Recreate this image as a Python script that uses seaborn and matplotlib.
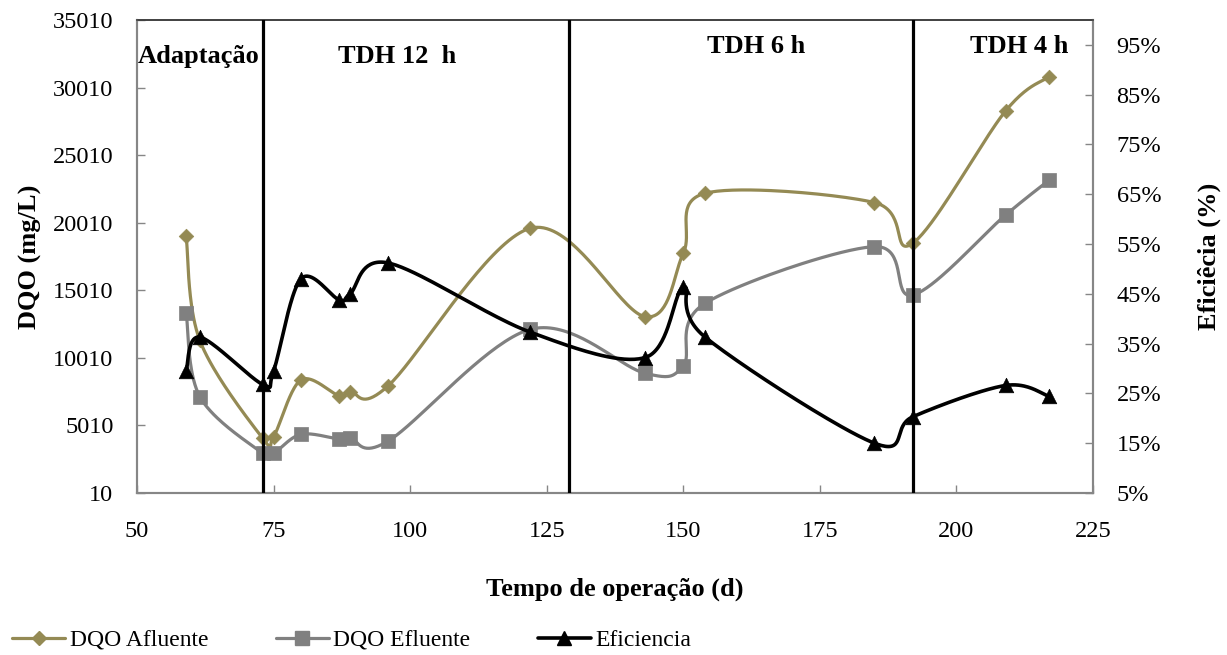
import numpy as np
import matplotlib
matplotlib.use("Agg")
import matplotlib.pyplot as plt
from matplotlib.lines import Line2D
import seaborn as sns

# ---- data ----
dias = [59, 61.5, 73, 75, 80, 87, 89, 96, 122, 143, 150, 154, 185, 192, 209, 217]
dqo_afluente = [19000, 11300, 4060, 4180, 8370, 7210, 7500, 7950, 19600,
                13060, 17750, 22190, 21500, 18490, 28280, 30820]
dqo_efluente = [13350, 7140, 2950, 2950, 4350, 4010, 4100, 3860, 12120,
                8870, 9430, 14050, 18240, 14660, 20580, 23170]
eficiencia = [29.5, 36.3, 26.8, 29.5, 48.0, 43.8, 45.0, 51.2, 37.3,
              32.2, 46.3, 36.3, 15.0, 20.3, 26.6, 24.4]
fases_limites = [73, 129, 192]
fases_nomes = ["Adaptação", "TDH 12  h", "TDH 6 h", "TDH 4 h"]
x_ticks = [50, 75, 100, 125, 150, 175, 200, 225]
y_ticks = [10, 5010, 10010, 15010, 20010, 25010, 30010, 35010]
pct_ticks = [5, 15, 25, 35, 45, 55, 65, 75, 85, 95]

# ---- style ----
sns.set_theme(style="white")
plt.rcParams["font.family"] = ["Liberation Serif", "DejaVu Serif"]
plt.rcParams["text.color"] = "black"
plt.rcParams["axes.labelcolor"] = "black"
plt.rcParams["xtick.color"] = "black"
plt.rcParams["ytick.color"] = "black"

C_AFL = "#948A54"
C_EFL = "#808080"
C_EFI = "#000000"
C_AX = "#868686"
FS = 17.5

fig = plt.figure(figsize=(12.27, 6.55), dpi=100)
ax = fig.add_axes([137 / 1227, 1 - 493 / 655, (1093 - 137) / 1227, (493 - 20) / 655])
ax2 = ax.twinx()

ax.set_xlim(50, 225)
ax.set_ylim(10, 35010)
ax2.set_ylim(5, 100)


def smooth(a, xs, ys, n=40):
    """Excel-like smoothed line (cubic Bezier / Catmull-Rom in screen space)."""
    pts = a.transData.transform(np.column_stack([xs, ys]))
    P = np.vstack([pts[0], pts, pts[-1]])
    t = np.linspace(0, 1, n)[:, None]
    out = []
    for i in range(1, len(P) - 2):
        p0, p1, p2, p3 = P[i - 1], P[i], P[i + 1], P[i + 2]
        c1 = p1 + (p2 - p0) / 6
        c2 = p2 - (p3 - p1) / 6
        seg = (1 - t) ** 3 * p1 + 3 * (1 - t) ** 2 * t * c1 + 3 * (1 - t) * t ** 2 * c2 + t ** 3 * p2
        out.append(seg if i == 1 else seg[1:])
    curve = a.transData.inverted().transform(np.vstack(out))
    return curve[:, 0], curve[:, 1]


# series
cx, cy = smooth(ax, dias, dqo_afluente)
sns.lineplot(x=cx, y=cy, ax=ax, sort=False, estimator=None, color=C_AFL, lw=2.3, zorder=3)
sns.scatterplot(x=dias, y=dqo_afluente, ax=ax, marker="D", s=55, color=C_AFL,
                edgecolor=C_AFL, linewidth=0.5, zorder=4)

cx, cy = smooth(ax, dias, dqo_efluente)
sns.lineplot(x=cx, y=cy, ax=ax, sort=False, estimator=None, color=C_EFL, lw=2.3, zorder=3)
sns.scatterplot(x=dias, y=dqo_efluente, ax=ax, marker="s", s=110, color=C_EFL,
                edgecolor=C_EFL, linewidth=0.5, zorder=4)

cx, cy = smooth(ax2, dias, eficiencia)
sns.lineplot(x=cx, y=cy, ax=ax2, sort=False, estimator=None, color=C_EFI, lw=2.6, zorder=3)
sns.scatterplot(x=dias, y=eficiencia, ax=ax2, marker="^", s=110, color=C_EFI,
                edgecolor=C_EFI, linewidth=0.5, zorder=4)

for xv in fases_limites:
    ax2.axvline(xv, color="black", lw=2.3, zorder=6)

# phase labels
xt = ax2.get_xaxis_transform()
ax2.text(50.2, 0.922, fases_nomes[0], transform=xt, ha="left", va="center",
         fontsize=19, fontweight="bold", color="black")
ax2.text(97.6, 0.922, fases_nomes[1], transform=xt, ha="center", va="center",
         fontsize=19, fontweight="bold", color="black")
ax2.text(163.3, 0.943, fases_nomes[2], transform=xt, ha="center", va="center",
         fontsize=19, fontweight="bold", color="black")
ax2.text(211.4, 0.943, fases_nomes[3], transform=xt, ha="center", va="center",
         fontsize=19, fontweight="bold", color="black")

# axes / ticks
ax.set_xticks(x_ticks)
ax.set_xticklabels([str(v) for v in x_ticks])
ax.set_yticks(y_ticks)
ax.set_yticklabels([str(v) for v in y_ticks])
ax2.set_yticks(pct_ticks)
ax2.set_yticklabels([f"{v}%" for v in pct_ticks])

ax.tick_params(axis="both", direction="in", length=6, width=1, color=C_AX,
               labelsize=FS, labelcolor="black")
ax.tick_params(axis="x", pad=20, bottom=True)
ax.tick_params(axis="y", pad=17, left=True)
ax2.tick_params(axis="y", direction="in", length=6, width=1, color=C_AX,
                labelsize=FS, labelcolor="black", pad=17, right=True)

for a in (ax, ax2):
    for side in ("left", "right", "bottom"):
        a.spines[side].set_color(C_AX)
        a.spines[side].set_linewidth(1.5)
    a.spines["top"].set_color("#404040")
    a.spines["top"].set_linewidth(1.2)
    a.grid(False)

ax.set_xlabel("Tempo de operação (d)", fontsize=19, fontweight="bold", labelpad=26,
              color="black")
ax.set_ylabel("DQO (mg/L)", fontsize=19, fontweight="bold", labelpad=8, color="black")
ax2.set_ylabel("Eficiêcia (%)", fontsize=19, fontweight="bold", labelpad=26, color="black")

handles = [
    Line2D([], [], color=C_AFL, lw=2.3, marker="D", ms=7),
    Line2D([], [], color=C_EFL, lw=2.3, marker="s", ms=10),
    Line2D([], [], color=C_EFI, lw=2.6, marker="^", ms=10),
]
fig.legend(handles, ["DQO Afluente", "DQO Efluente", "Eficiencia"],
           loc="center left", bbox_to_anchor=(12 / 1227, 1 - 640 / 655),
           ncol=3, frameon=False, fontsize=17, handlelength=2.25,
           handletextpad=0.2, columnspacing=2.85, borderaxespad=0, borderpad=0)

fig.savefig("out.png", dpi=100)
